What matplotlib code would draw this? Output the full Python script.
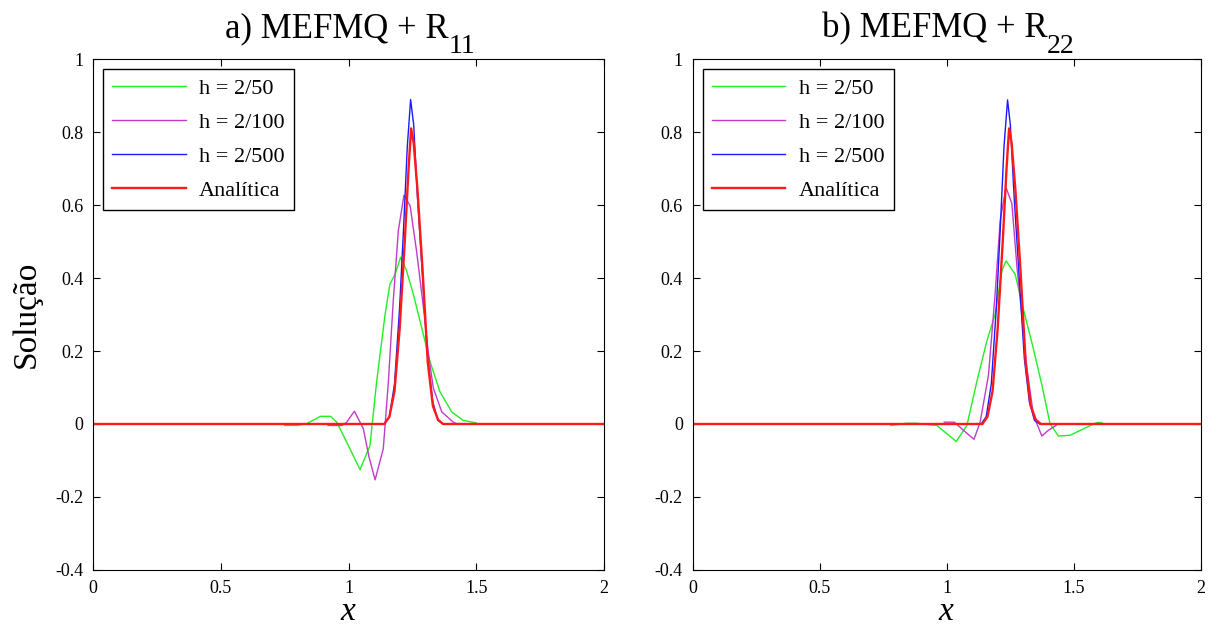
import matplotlib
matplotlib.use('Agg')
import matplotlib.pyplot as plt
from matplotlib.transforms import ScaledTranslation

plt.rcParams['font.family'] = 'Liberation Serif'
plt.rcParams['mathtext.fontset'] = 'custom'
plt.rcParams['mathtext.rm'] = 'Liberation Serif'
plt.rcParams['mathtext.it'] = 'Liberation Serif:italic'

# analytic solution (same in both panels)
x_an = [0, 1.14, 1.16, 1.18, 1.20, 1.22, 1.235, 1.245, 1.255, 1.27, 1.29, 1.31, 1.33, 1.35, 1.37, 2]
y_an = [0, 0, 0.02, 0.09, 0.26, 0.50, 0.70, 0.81, 0.77, 0.64, 0.42, 0.17, 0.05, 0.012, 0, 0]

# panel a) MEFMQ + R11
xa_50 = [0.75, 0.80, 0.836, 0.89, 0.93, 0.954, 1.00, 1.045, 1.084, 1.11, 1.143, 1.162, 1.182, 1.204,
         1.227, 1.254, 1.293, 1.319, 1.358, 1.404, 1.448, 1.50]
ya_50 = [-0.004, -0.004, 0.001, 0.021, 0.021, 0.005, -0.06, -0.125, -0.059, 0.116, 0.30, 0.383, 0.41, 0.457,
         0.42, 0.355, 0.245, 0.171, 0.088, 0.033, 0.010, 0.003]
xa_100 = [0.92, 0.975, 0.993, 1.023, 1.058, 1.08, 1.104, 1.136, 1.156, 1.175, 1.195, 1.217, 1.241,
          1.267, 1.293, 1.313, 1.332, 1.365, 1.41, 1.42]
ya_100 = [-0.004, -0.004, 0.005, 0.035, -0.013, -0.09, -0.153, -0.068, 0.116, 0.337, 0.53, 0.627, 0.598,
          0.47, 0.32, 0.19, 0.098, 0.033, 0.005, 0.002]
xa_500 = [0, 1.14, 1.16, 1.18, 1.20, 1.215, 1.23, 1.243, 1.255, 1.27, 1.29, 1.31, 1.33, 1.35, 1.37, 2]
ya_500 = [0, 0, 0.02, 0.11, 0.32, 0.53, 0.76, 0.889, 0.82, 0.62, 0.40, 0.18, 0.06, 0.01, 0, 0]

# panel b) MEFMQ + R22
xb_50 = [0.78, 0.84, 0.88, 0.961, 1.037, 1.079, 1.118, 1.157, 1.19, 1.217, 1.233, 1.269, 1.30,
         1.34, 1.374, 1.406, 1.439, 1.485, 1.538, 1.59, 1.61]
yb_50 = [-0.004, 0.002, 0.002, -0.004, -0.048, -0.004, 0.116, 0.226, 0.30, 0.42, 0.447, 0.41, 0.318,
         0.208, 0.107, 0.001, -0.033, -0.031, -0.013, 0.004, 0.004]
xb_100 = [0.99, 1.03, 1.065, 1.107, 1.131, 1.164, 1.19, 1.21, 1.233, 1.256, 1.276, 1.295, 1.315,
          1.341, 1.374, 1.40, 1.43]
yb_100 = [0.005, 0.005, -0.017, -0.042, 0.005, 0.134, 0.356, 0.558, 0.648, 0.604, 0.43, 0.30, 0.153,
          0.024, -0.033, -0.017, -0.004]
xb_500 = [0, 1.135, 1.155, 1.175, 1.195, 1.21, 1.225, 1.239, 1.25, 1.265, 1.285, 1.305, 1.325, 1.345, 1.365, 2]
yb_500 = [0, 0, 0.02, 0.11, 0.32, 0.53, 0.76, 0.888, 0.82, 0.62, 0.40, 0.18, 0.06, 0.01, 0, 0]

labels = ['h = 2/50', 'h = 2/100', 'h = 2/500', 'Analítica']
colors = ['#22ee22', '#c03cc8', '#1a1aff', '#ff1a1a']

xticks = [0, 0.5, 1, 1.5, 2]
xticklabels = ['0', '0.5', '1', '1.5', '2']
yticks = [-0.4, -0.2, 0, 0.2, 0.4, 0.6, 0.8, 1]
yticklabels = ['-0.4', '-0.2', '0', '0.2', '0.4', '0.6', '0.8', '1']

fig = plt.figure(figsize=(12.11, 6.41), dpi=100)
ax1 = fig.add_axes([0.0768, 0.1108, 0.4220, 0.7971])
ax2 = fig.add_axes([0.5720, 0.1108, 0.4197, 0.7971])

panels = [
    (ax1, xa_50, ya_50, xa_100, ya_100, xa_500, ya_500, 'a) MEFMQ + R', '11'),
    (ax2, xb_50, yb_50, xb_100, yb_100, xb_500, yb_500, 'b) MEFMQ + R', '22'),
]

for ax, x50, y50, x100, y100, x500, y500, title, sub in panels:
    ax.plot(x50, y50, color=colors[0], lw=1.0, label=labels[0])
    ax.plot(x100, y100, color=colors[1], lw=1.0, label=labels[1])
    ax.plot(x500, y500, color=colors[2], lw=1.0, label=labels[2])
    ax.plot(x_an, y_an, color=colors[3], lw=1.7, label=labels[3])
    ax.set_xlim(0, 2)
    ax.set_ylim(-0.4, 1)
    ax.set_xticks(xticks)
    ax.set_xticklabels(xticklabels)
    ax.set_yticks(yticks)
    ax.set_yticklabels(yticklabels)
    ax.tick_params(direction='in', top=True, right=True, labelsize=13, length=5, pad=7)
    # title with a large, low subscript like the original
    ax.text(0.5, 1.0, title, fontsize=25, ha='center', va='baseline',
            transform=ax.transAxes + ScaledTranslation(-0.12, 0.22, fig.dpi_scale_trans))
    ax.text(0.5, 1.0, sub, fontsize=20, ha='left', va='baseline',
            transform=ax.transAxes + ScaledTranslation(1.00, 0.06, fig.dpi_scale_trans))
    ax.set_xlabel(r'$x$', fontsize=24, labelpad=0)
    leg = ax.legend(loc='upper left', fontsize=16, fancybox=False, edgecolor='black',
                    handlelength=3.3, borderaxespad=0.45, labelspacing=0.6, handletextpad=0.6,
                    borderpad=0.42, framealpha=1)
    leg.get_frame().set_linewidth(1.0)

ax1.set_ylabel('Solução', fontsize=24, labelpad=10)

fig.savefig('out.png', dpi=100)
